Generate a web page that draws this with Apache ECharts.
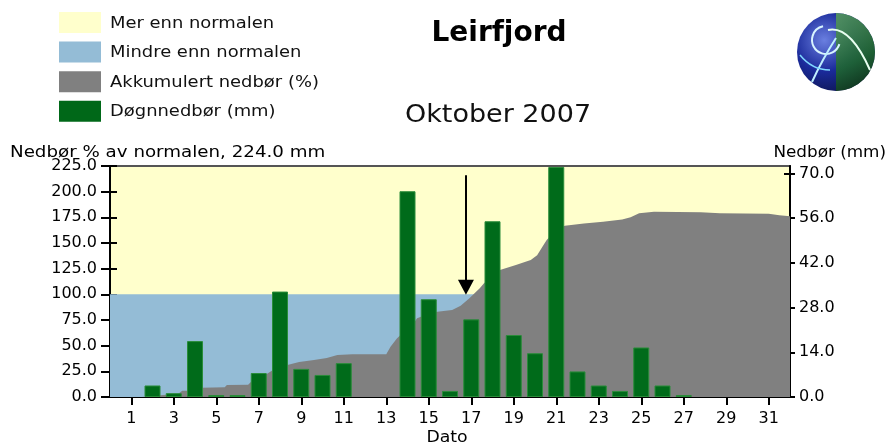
<!DOCTYPE html>
<html>
<head>
<meta charset="utf-8">
<script src="https://cdn.jsdelivr.net/npm/echarts@6/dist/echarts.min.js"></script>
<style>
html,body{margin:0;padding:0;background:#fff;}
#c{width:889px;height:446px;}
</style>
</head>
<body>
<div id="c"></div>
<script>
// ---- data ----
const title = 'Leirfjord';
const subtitle = 'Oktober 2007';
const leftAxisName = 'Nedbør % av normalen, 224.0 mm';
const rightAxisName = 'Nedbør (mm)';
const xAxisName = 'Dato';
const legendLabels = ['Mer enn normalen', 'Mindre enn normalen', 'Akkumulert nedbør (%)', 'Døgnnedbør (mm)'];

const days = [1,2,3,4,5,6,7,8,9,10,11,12,13,14,15,16,17,18,19,20,21,22,23,24,25,26,27,28,29,30,31];
const dailyMm = [0,3.6,1.2,17.5,0.6,0.6,7.5,33,8.8,6.9,10.6,0,0,64.4,30.6,1.9,24.3,55,19.4,13.7,72,8,3.6,1.9,15.5,3.6,0.6,0,0,0,0];

// accumulated precipitation, % of normal, sampled along the month (day position)
const accumDay = [0,1.5,2.0,2.5,3.2,3.4,4.2,4.3,5.4,5.5,6.5,6.8,7.3,7.8,8.3,8.9,9.6,10.2,10.7,11.4,13.0,13.2,13.5,14.0,14.3,14.45,15.0,15.4,16.1,16.5,16.9,17.4,17.6,18.0,18.35,19.1,19.8,20.1,20.4,20.55,21.0,21.4,22.3,23.2,24.1,24.5,24.9,25.6,27.8,28.7,31.0,31.5,32];
const accumPct = [0,0,1,2,3,6,6,9,9.5,11.7,12,18,21.4,28,31,34,36,38,41,41.6,41.6,49,57,67,72,76.6,81,83,84.7,89,96,106,110.7,118,123.7,128.6,133.4,138,148,153,163,166.8,169,170.8,173,175,179,180.5,180,179,178.5,177,176];

const leftTicks = [0,25,50,75,100,125,150,175,200,225];
const rightTicks = [0,14,28,42,56,70];
const xTicks = [1,3,5,7,9,11,13,15,17,19,21,23,25,27,29,31];
const normalPct = 100;
const arrowDay = 16.75, arrowFrom = 216, arrowTo = 107;

// ---- chart ----
const FONT = 'DejaVu Sans';
const chart = echarts.init(document.getElementById('c'), null, {renderer:'canvas'});
const cYellow = '#FFFFCC', cBlue = '#94BCD6', cGray = '#808080', cGreen = '#006B1A';

const legendColors = [cYellow, cBlue, cGray, '#006818'];
const graphics = [];
legendLabels.forEach((t, i) => {
  const cy = 22.5 + i * 29.6;
  graphics.push({type:'rect', left:59, top:cy-10.5, shape:{width:42,height:21}, style:{fill:legendColors[i]}});
  graphics.push({type:'text', x:110, y:cy+1, scaleX:1.12, style:{text:t, font:'16px "DejaVu Sans"', fill:'#111', align:'left', verticalAlign:'middle'}});
});
graphics.push({type:'text', x:499, y:34, style:{text:title, font:'bold 28px "DejaVu Sans"', fill:'#000', align:'center', verticalAlign:'middle'}});
graphics.push({type:'text', x:498, y:115, scaleX:1.08, style:{text:subtitle, font:'25px "DejaVu Sans"', fill:'#111', align:'center', verticalAlign:'middle'}});
graphics.push({type:'text', x:10, y:153, scaleX:1.14, style:{text:leftAxisName, font:'16px "DejaVu Sans"', fill:'#000', align:'left', verticalAlign:'middle'}});
graphics.push({type:'text', x:886, y:153, scaleX:1.05, style:{text:rightAxisName, font:'16px "DejaVu Sans"', fill:'#000', align:'right', verticalAlign:'middle'}});
graphics.push({type:'text', x:447, y:438, scaleX:1.08, style:{text:xAxisName, font:'16px "DejaVu Sans"', fill:'#000', align:'center', verticalAlign:'middle'}});
// logo globe
graphics.push({type:'circle', shape:{cx:836, cy:52, r:39}, style:{fill:{type:'radial', x:0.35, y:0.35, r:0.8, colorStops:[{offset:0,color:'#6a7fe0'},{offset:0.5,color:'#1a2a9a'},{offset:1,color:'#0a1040'}]}}});
graphics.push({type:'sector', shape:{cx:836, cy:52, r:39, r0:0, startAngle:-Math.PI/2, endAngle:Math.PI/2}, style:{fill:{type:'linear', x:0, y:0, x2:1, y2:1, colorStops:[{offset:0,color:'#5aa05a'},{offset:0.6,color:'#1f6a2a'},{offset:1,color:'#0a2a10'}]}, opacity:0.85}});
graphics.push({type:'arc', shape:{cx:826, cy:40, r:14, startAngle:0.3, endAngle:4.5}, style:{stroke:'#d8f4ff', lineWidth:2, fill:null}});
graphics.push({type:'bezierCurve', shape:{x1:828, y1:30, x2:870, y2:70, cpx1:850, cpy1:25}, style:{stroke:'#e8fff0', lineWidth:2, fill:null}});
graphics.push({type:'bezierCurve', shape:{x1:812, y1:82, x2:836, y2:38, cpx1:822, cpy1:60}, style:{stroke:'#bfefff', lineWidth:2, fill:null}});
graphics.push({type:'bezierCurve', shape:{x1:800, y1:55, x2:830, y2:70, cpx1:812, cpy1:70}, style:{stroke:'#7fd8ff', lineWidth:1.5, fill:null}});

const axisText = {color:'#000', fontFamily:FONT, fontSize:16};
const blackLine = {lineStyle:{color:'#000', width:2}};

const option = {
  animation:false,
  backgroundColor:'#fff',
  grid:{left:110, right:99, top:166, bottom:49, show:true, backgroundColor:cYellow, borderColor:'#555', borderWidth:2},
  xAxis:[
    {type:'value', min:0, max:32, position:'bottom',
     axisLine:{show:true, onZero:false, ...blackLine},
     axisTick:{show:true, inside:false, length:8, lineStyle:{color:'#000', width:2}, customValues:xTicks},
     axisLabel:{...axisText, margin:14, customValues:xTicks},
     splitLine:{show:false}},
    {type:'value', min:0, max:32, position:'bottom',
     axisLine:{show:false, onZero:false},
     axisTick:{show:true, inside:true, length:6, lineStyle:{color:'#000', width:2}, customValues:xTicks},
     axisLabel:{show:false}, splitLine:{show:false}}
  ],
  yAxis:[
    {type:'value', min:0, max:225, position:'left',
     axisLine:{show:true, onZero:false, ...blackLine},
     axisTick:{show:true, inside:false, length:9, lineStyle:{color:'#000', width:2}, customValues:leftTicks},
     axisLabel:{...axisText, margin:13, customValues:leftTicks, formatter:v => Number(v).toFixed(1)},
     splitLine:{show:false}},
    {type:'value', min:0, max:72.3, position:'right',
     axisLine:{show:true, onZero:false, ...blackLine},
     axisTick:{show:true, inside:false, length:5, lineStyle:{color:'#000', width:2}, customValues:rightTicks},
     axisLabel:{...axisText, margin:9, customValues:rightTicks, formatter:v => Number(v).toFixed(1)},
     splitLine:{show:false}},
    {type:'value', min:0, max:225, position:'left',
     axisLine:{show:false, onZero:false}, axisTick:{show:true, inside:true, length:7, lineStyle:{color:'#000', width:2}, customValues:leftTicks},
     axisLabel:{show:false}, splitLine:{show:false}},
    {type:'value', min:0, max:72.3, position:'right',
     axisLine:{show:false, onZero:false}, axisTick:{show:true, inside:true, length:6, lineStyle:{color:'#000', width:2}, customValues:rightTicks},
     axisLabel:{show:false}, splitLine:{show:false}}
  ],
  graphic:graphics,
  series:[
    {name:'bg', type:'line', xAxisIndex:0, yAxisIndex:0, data:[], z:1, silent:true,
     markArea:{silent:true, itemStyle:{color:cBlue, opacity:1},
       data:[[{coord:[0,0]},{coord:[32,normalPct]}]]}},
    {name:legendLabels[2], type:'line', xAxisIndex:0, yAxisIndex:0, z:2,
     data:accumDay.map((d,i)=>[d, accumPct[i]]),
     showSymbol:false, symbol:'none', lineStyle:{width:0, color:cGray},
     areaStyle:{color:cGray, opacity:1}},
    {name:legendLabels[3], type:'bar', xAxisIndex:0, yAxisIndex:1, z:3,
     data:days.map((d,i)=> dailyMm[i] > 0 ? [d, dailyMm[i]] : {value:[d, dailyMm[i]], itemStyle:{borderWidth:0, opacity:0}}),
     barWidth:16,
     itemStyle:{color:cGreen, borderColor:'#2a8c3a', borderWidth:1}},
    {name:'arrow', type:'line', xAxisIndex:0, yAxisIndex:0, data:[], z:4,
     markLine:{silent:true, symbol:['none','triangle'], symbolSize:[16,15], label:{show:false},
       lineStyle:{color:'#000', width:2, type:'solid'},
       data:[[{coord:[arrowDay, arrowFrom]},{coord:[arrowDay, arrowTo]}]]}}
  ]
};
chart.setOption(option);
</script>
</body>
</html>
